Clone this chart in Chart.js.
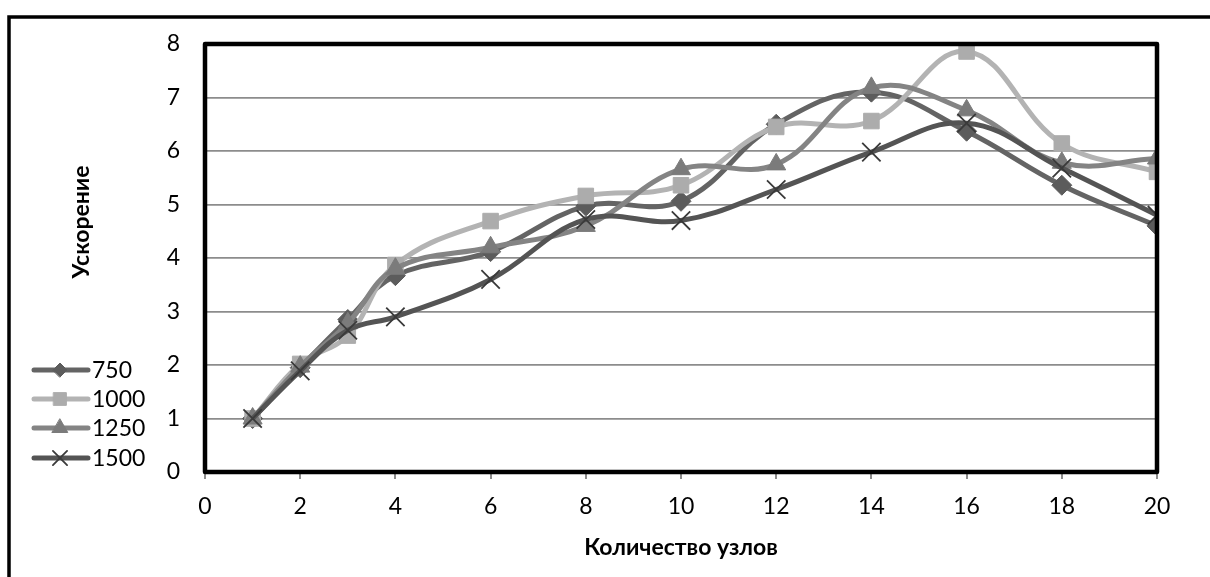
<!DOCTYPE html>
<html>
<head>
<meta charset="utf-8">
<script src="https://cdn.jsdelivr.net/npm/chart.js@4/dist/chart.umd.min.js"></script>
<style>
  html, body { margin: 0; padding: 0; background: #fff; }
  #wrap { width: 1210px; height: 577px; position: relative; }
</style>
</head>
<body>
<div id="wrap"><canvas id="speedupChart"></canvas></div>
<script>
// Количество узлов
const nodes = [1, 2, 3, 4, 6, 8, 10, 12, 14, 16, 18, 20];

// Ускорение для разных размеров задачи
const s750  = [1, 1.95, 2.85, 3.67, 4.12, 4.97, 5.06, 6.5, 7.1, 6.37, 5.36, 4.6];
const s1000 = [1, 2.02, 2.55, 3.87, 4.69, 5.16, 5.36, 6.45, 6.56, 7.86, 6.14, 5.61];
const s1250 = [1, 1.97, 2.78, 3.8, 4.2, 4.6, 5.66, 5.75, 7.18, 6.76, 5.78, 5.86];
const s1500 = [1, 1.89, 2.65, 2.9, 3.6, 4.72, 4.7, 5.28, 5.98, 6.52, 5.68, 4.8];

const seriesNames = ['750', '1000', '1250', '1500'];
const xTicks = [0, 2, 4, 6, 8, 10, 12, 14, 16, 18, 20];
const yTicks = [0, 1, 2, 3, 4, 5, 6, 7, 8];

const FONT = "Lato, 'Open Sans', sans-serif";

function pts(values) {
  return nodes.map((n, i) => ({ x: n, y: values[i] }));
}

// Общий стиль линий
function series(label, values, line, marker, style, radius, order, extra) {
  return Object.assign({
    label: label,
    data: pts(values),
    borderColor: line,
    borderWidth: 5,
    tension: 0.4,
    pointStyle: style,
    pointRadius: radius,
    pointHoverRadius: radius,
    pointBackgroundColor: marker,
    pointBorderColor: marker,
    pointBorderWidth: 1,
    order: order
  }, extra || {});
}

// Рамки: внешняя и вокруг области построения
const frames = {
  id: 'frames',
  beforeDraw(chart) {
    const ctx = chart.ctx;
    ctx.save();
    ctx.strokeStyle = '#000';
    ctx.lineWidth = 3.5;
    ctx.strokeRect(9, 17, 1400, 800);
    ctx.restore();
  },
  afterDatasetsDraw(chart) {
    const ctx = chart.ctx;
    const a = chart.chartArea;
    ctx.save();
    ctx.strokeStyle = '#000';
    ctx.lineWidth = 4.5;
    ctx.lineJoin = 'round';
    ctx.strokeRect(a.left, a.top, a.right - a.left, a.bottom - a.top);
    ctx.restore();
  }
};

// Подпись оси Y и легенда слева
const sideLabels = {
  id: 'sideLabels',
  afterDraw(chart) {
    const ctx = chart.ctx;
    ctx.save();
    ctx.fillStyle = '#000';
    ctx.font = 'bold 23px ' + FONT;
    ctx.textAlign = 'center';
    ctx.textBaseline = 'middle';
    ctx.translate(82, 222);
    ctx.rotate(-Math.PI / 2);
    ctx.fillText('Ускорение', 0, 0);
    ctx.restore();

    const ys = [370, 399, 428, 458];
    const sizes = [7, 9, 9, 10];
    chart.data.datasets.forEach((ds, i) => {
      const y = ys[i];
      ctx.save();
      ctx.strokeStyle = ds.borderColor;
      ctx.lineWidth = 5;
      ctx.lineCap = 'round';
      ctx.beginPath();
      ctx.moveTo(34, y);
      ctx.lineTo(88, y);
      ctx.stroke();
      ctx.fillStyle = ds.pointBackgroundColor;
      ctx.strokeStyle = ds.pointBorderColor;
      ctx.lineWidth = ds.pointBorderWidth;
      Chart.helpers.drawPoint(ctx, {
        pointStyle: ds.pointStyle, radius: sizes[i], rotation: 0,
        borderWidth: ds.pointBorderWidth
      }, 60, y);
      ctx.fillStyle = '#000';
      ctx.font = '23px ' + FONT;
      ctx.textAlign = 'left';
      ctx.textBaseline = 'middle';
      ctx.fillText(seriesNames[i], 92, y + 1);
      ctx.restore();
    });
  }
};

const ctx = document.getElementById('speedupChart').getContext('2d');
const speedupChart = new Chart(ctx, {
  type: 'line',
  data: {
    datasets: [
      series(seriesNames[0], s750, '#646464', '#5c5c5c', 'rectRot', 10, 4),
      series(seriesNames[1], s1000, '#b3b3b3', '#acacac', 'rect', 11, 3),
      series(seriesNames[2], s1250, '#848484', '#7b7b7b', 'triangle', 11, 2),
      series(seriesNames[3], s1500, '#545454', '#3a3a3a', 'crossRot', 13, 1, { pointBorderWidth: 1.8 })
    ]
  },
  options: {
    responsive: true,
    maintainAspectRatio: false,
    animation: false,
    layout: { padding: { left: 0, top: 44, right: 53, bottom: 0 } },
    plugins: {
      legend: { display: false },
      tooltip: { enabled: false }
    },
    scales: {
      x: {
        type: 'linear',
        min: 0,
        max: 20,
        afterFit(scale) { scale.height = 105; },
        afterBuildTicks(scale) { scale.ticks = xTicks.map(v => ({ value: v })); },
        grid: {
          drawOnChartArea: false,
          drawTicks: true,
          tickLength: 7,
          color: '#8c8c8c',
          lineWidth: 2
        },
        border: { display: false },
        ticks: {
          color: '#000',
          padding: 14,
          maxRotation: 0,
          font: { family: FONT, size: 23 }
        },
        title: {
          display: true,
          text: 'Количество узлов',
          color: '#000',
          font: { family: FONT, size: 23, weight: 'bold' },
          padding: { top: 0, bottom: 16 }
        }
      },
      y: {
        min: 0,
        max: 8,
        afterFit(scale) { scale.width = 205; },
        afterBuildTicks(scale) { scale.ticks = yTicks.map(v => ({ value: v })); },
        grid: {
          drawTicks: false,
          color: '#8c8c8c',
          lineWidth: 1.7
        },
        border: { display: false },
        ticks: {
          color: '#000',
          padding: 25,
          font: { family: FONT, size: 23 }
        }
      }
    }
  },
  plugins: [frames, sideLabels]
});
</script>
</body>
</html>
